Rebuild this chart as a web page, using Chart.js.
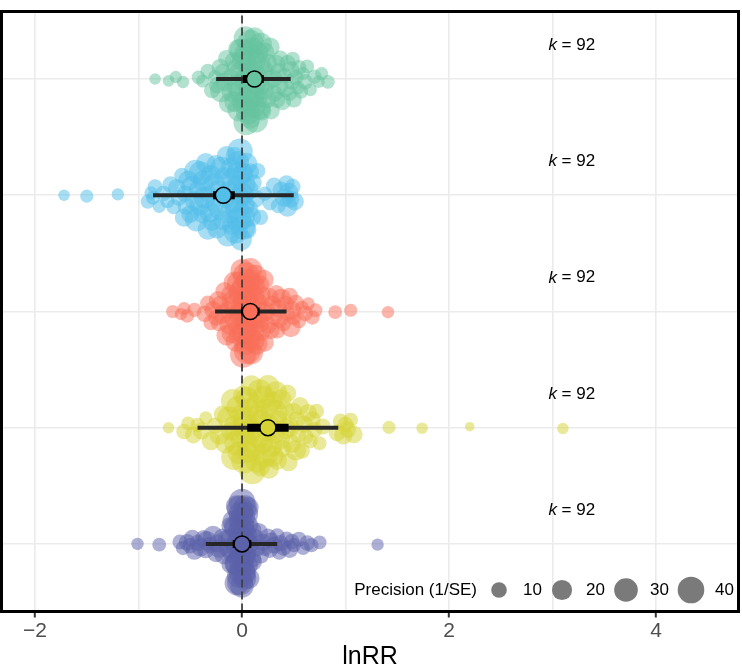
<!DOCTYPE html>
<html>
<head>
<meta charset="utf-8">
<script src="https://cdn.jsdelivr.net/npm/chart.js@4.4.0/dist/chart.umd.min.js"></script>
<style>
  html, body { margin: 0; padding: 0; background: #fff; }
  #orchard { display: block; }
</style>
</head>
<body>
<canvas id="orchard" width="742" height="667"></canvas>
<script>
// lnRR and precision (1/SE) of the 92 effect sizes in each group, groups from top to bottom
const lnrrGreen = [
  -0.84, -0.71, -0.64, -0.57, -0.42, -0.38, -0.33, -0.29, -0.26, -0.24,
  -0.21, -0.19, -0.17, -0.15, -0.13, -0.11, -0.10, -0.08, -0.07, -0.06,
  -0.05, -0.04, -0.03, -0.02, -0.01, 0.00, 0.01, 0.02, 0.02, 0.03,
  0.04, 0.04, 0.05, 0.06, 0.06, 0.07, 0.08, 0.08, 0.09, 0.10,
  0.10, 0.11, 0.12, 0.12, 0.13, 0.14, 0.14, 0.15, 0.16, 0.17,
  0.18, 0.19, 0.20, 0.21, 0.22, 0.23, 0.25, 0.26, 0.28, 0.30,
  0.31, 0.33, 0.34, 0.36, 0.37, 0.39, 0.41, 0.42, 0.44, 0.46,
  0.47, 0.49, 0.50, 0.52, 0.54, 0.55, 0.57, 0.59, 0.61, 0.63,
  0.66, 0.70, 0.74, 0.77, 0.83, -0.20, 0.05, 0.11, 0.16, 0.27,
  0.35, 0.48
];
const precGreen = [
  4, 4, 5, 5, 7, 6, 9, 11, 8, 12,
  14, 10, 16, 12, 18, 13, 20, 15, 22, 17,
  25, 19, 28, 21, 30, 34, 24, 31, 20, 27,
  36, 23, 29, 33, 18, 26, 38, 22, 30, 35,
  25, 32, 28, 21, 34, 19, 27, 24, 31, 22,
  26, 18, 23, 20, 17, 21, 15, 19, 14, 16,
  13, 17, 12, 15, 11, 14, 10, 16, 12, 9,
  13, 8, 11, 10, 7, 9, 8, 6, 10, 7,
  6, 8, 5, 6, 7, 26, 40, 33, 29, 18,
  12, 11
];
const lnrrBlue = [
  -1.72, -1.50, -1.20, -0.91, -0.88, -0.86, -0.84, -0.80, -0.76, -0.72,
  -0.69, -0.66, -0.63, -0.61, -0.58, -0.56, -0.54, -0.52, -0.50, -0.48,
  -0.46, -0.44, -0.43, -0.41, -0.40, -0.38, -0.36, -0.35, -0.33, -0.32,
  -0.30, -0.29, -0.27, -0.26, -0.24, -0.23, -0.21, -0.20, -0.18, -0.17,
  -0.16, -0.14, -0.13, -0.12, -0.10, -0.09, -0.08, -0.07, -0.06, -0.05,
  -0.04, -0.03, -0.02, -0.02, -0.01, 0.00, 0.00, 0.01, 0.02, 0.03,
  0.04, 0.05, 0.06, 0.08, 0.09, 0.11, 0.13, 0.15, 0.18, 0.22,
  0.27, 0.31, 0.35, 0.38, 0.41, 0.43, 0.45, 0.47, 0.49, 0.51,
  -0.45, -0.37, -0.25, -0.15, -0.11, -0.05, -0.03, 0.01, 0.44, -0.55,
  -0.31, 0.07
];
const precBlue = [
  4, 6, 5, 8, 6, 7, 9, 6, 10, 8,
  12, 9, 14, 11, 10, 16, 13, 20, 15, 24,
  18, 28, 14, 22, 30, 17, 25, 19, 21, 13,
  23, 16, 26, 18, 20, 14, 24, 27, 19, 22,
  15, 25, 18, 21, 17, 28, 23, 16, 31, 20,
  26, 33, 22, 36, 24, 30, 38, 21, 27, 18,
  25, 16, 22, 14, 19, 12, 15, 10, 9, 8,
  10, 12, 9, 14, 16, 11, 18, 13, 10, 15,
  26, 23, 19, 17, 20, 29, 35, 32, 20, 12,
  22, 15
];
const lnrrRed = [
  -0.67, -0.59, -0.56, -0.53, -0.46, -0.36, -0.33, -0.30, -0.28, -0.25,
  -0.23, -0.21, -0.19, -0.17, -0.15, -0.14, -0.12, -0.11, -0.09, -0.08,
  -0.07, -0.06, -0.05, -0.04, -0.03, -0.02, -0.01, 0.00, 0.00, 0.01,
  0.02, 0.03, 0.03, 0.04, 0.05, 0.06, 0.06, 0.07, 0.08, 0.09,
  0.09, 0.10, 0.11, 0.12, 0.13, 0.14, 0.15, 0.16, 0.17, 0.18,
  0.19, 0.20, 0.22, 0.23, 0.25, 0.26, 0.28, 0.29, 0.31, 0.33,
  0.34, 0.36, 0.38, 0.40, 0.42, 0.44, 0.46, 0.48, 0.50, 0.52,
  0.55, 0.58, 0.61, 0.64, 0.68, 0.71, 0.90, 1.05, 1.41, 0.02,
  0.05, 0.08, 0.11, -0.10, 0.21, 0.35, 0.47, -0.22, 0.13, 0.04,
  0.01, 0.07
];
const precRed = [
  6, 5, 6, 7, 8, 12, 10, 9, 14, 11,
  16, 13, 18, 15, 20, 14, 22, 17, 24, 19,
  26, 21, 29, 23, 31, 25, 33, 36, 28, 38,
  30, 24, 34, 27, 40, 22, 32, 26, 35, 29,
  23, 31, 27, 21, 28, 25, 19, 24, 17, 22,
  16, 20, 15, 18, 14, 17, 13, 16, 12, 15,
  11, 14, 18, 10, 13, 9, 12, 16, 8, 11,
  9, 7, 10, 6, 8, 7, 7, 6, 5, 33,
  37, 30, 26, 20, 19, 14, 20, 12, 25, 39,
  35, 28
];
const lnrrYellow = [
  -0.71, -0.56, -0.52, -0.47, -0.43, -0.39, -0.35, -0.30, -0.26, -0.22,
  -0.19, -0.16, -0.13, -0.11, -0.09, -0.07, -0.05, -0.03, -0.01, 0.00,
  0.01, 0.03, 0.04, 0.05, 0.07, 0.08, 0.09, 0.10, 0.12, 0.13,
  0.14, 0.15, 0.17, 0.18, 0.19, 0.20, 0.22, 0.23, 0.24, 0.25,
  0.27, 0.28, 0.29, 0.31, 0.32, 0.33, 0.35, 0.36, 0.38, 0.39,
  0.41, 0.42, 0.44, 0.46, 0.48, 0.50, 0.52, 0.54, 0.56, 0.58,
  0.60, 0.62, 0.64, 0.66, 0.68, 0.70, 0.72, 0.75, 0.78, 0.92,
  0.95, 0.98, 1.00, 1.02, 1.05, 1.08, 1.42, 1.74, 2.20, 3.10,
  -0.04, 0.02, 0.06, 0.11, 0.16, 0.21, 0.26, 0.34, 0.45, 0.53,
  -0.08, 0.30
];
const precYellow = [
  4, 10, 7, 12, 8, 14, 6, 16, 11, 18,
  13, 21, 26, 17, 30, 22, 34, 27, 25, 36,
  19, 31, 24, 28, 20, 33, 23, 38, 26, 18,
  29, 22, 32, 17, 27, 21, 35, 24, 19, 28,
  16, 26, 21, 40, 18, 25, 15, 23, 20, 14,
  17, 22, 13, 19, 16, 12, 21, 11, 15, 10,
  13, 9, 14, 8, 12, 10, 9, 7, 11, 13,
  9, 16, 10, 12, 8, 14, 6, 4, 2, 4,
  30, 37, 26, 32, 24, 29, 20, 18, 15, 12,
  35, 22
];
const lnrrPurple = [
  -1.01, -0.80, -0.60, -0.57, -0.53, -0.50, -0.46, -0.43, -0.40, -0.37,
  -0.34, -0.31, -0.28, -0.25, -0.22, -0.19, -0.17, -0.15, -0.13, -0.11,
  -0.10, -0.09, -0.08, -0.07, -0.06, -0.05, -0.05, -0.04, -0.04, -0.03,
  -0.03, -0.02, -0.02, -0.01, -0.01, 0.00, 0.00, 0.00, 0.01, 0.01,
  0.02, 0.02, 0.03, 0.03, 0.04, 0.04, 0.05, 0.06, 0.07, 0.08,
  0.09, 0.10, 0.12, 0.14, 0.16, 0.18, 0.20, 0.22, 0.25, 0.28,
  0.31, 0.34, 0.37, 0.40, 0.43, 0.46, 0.50, 0.55, 0.59, 0.63,
  0.67, 0.75, 1.31, -0.02, -0.01, 0.00, 0.01, 0.02, 0.00, -0.03,
  0.03, -0.06, 0.05, -0.12, 0.11, -0.24, 0.27, -0.35, 0.36, -0.48,
  0.48, 0.06
];
const precPurple = [
  5, 7, 9, 8, 12, 10, 14, 11, 16, 13,
  18, 12, 20, 15, 17, 13, 22, 14, 19, 16,
  24, 18, 27, 21, 30, 25, 33, 28, 36, 23,
  31, 26, 38, 29, 34, 40, 32, 27, 35, 24,
  30, 22, 28, 26, 20, 31, 23, 18, 21, 16,
  19, 15, 17, 13, 16, 12, 14, 11, 15, 10,
  13, 9, 12, 11, 10, 14, 8, 9, 7, 10,
  8, 7, 5, 37, 33, 39, 31, 35, 29, 26,
  27, 20, 24, 12, 13, 15, 11, 14, 9, 12,
  10, 22
];

// model estimates per group (top to bottom)
const meanEst = [0.12, -0.18, 0.08, 0.25, 0.00];
const ciLow   = [0.01, -0.28, -0.01, 0.05, -0.09];
const ciHigh  = [0.21, -0.07, 0.17, 0.45, 0.09];
const piLow   = [-0.25, -0.86, -0.26, -0.43, -0.35];
const piHigh  = [0.47, 0.50, 0.43, 0.93, 0.34];
const kValues = [92, 92, 92, 92, 92];

const xTicks = [-2, -1, 0, 1, 2, 3, 4];
const sizeBreaks = [10, 20, 30, 40];

const groupRows = [5, 4, 3, 2, 1];
const groupLnrr = [lnrrGreen, lnrrBlue, lnrrRed, lnrrYellow, lnrrPurple];
const groupPrec = [precGreen, precBlue, precRed, precYellow, precPurple];
const groupColors = ['#66C4A0', '#52BEEA', '#F96E58', '#D5D433', '#5C62AA'];

const xMin = -2.324, xMax = 4.797;
const yMin = 0.419, yMax = 5.581;
const kPos = 2.96;
const fontFamily = '"Liberation Sans", Arial, Helvetica, sans-serif';

function sizeOf(p) {
  return 2.3 + 1.74 * Math.sqrt(p);
}

function withAlpha(hex, a) {
  const n = parseInt(hex.slice(1), 16);
  return 'rgba(' + (n >> 16) + ',' + ((n >> 8) & 255) + ',' + (n & 255) + ',' + a + ')';
}

// van der Corput sequence, base 2
function vdc(n) {
  let v = 0, d = 1;
  while (n > 0) {
    d *= 2;
    v += (n % 2) / d;
    n = Math.floor(n / 2);
  }
  return v;
}

// quasirandom offsets like ggbeeswarm: spread scaled by the kernel density at each value
function quasiOffsets(xs, width) {
  const n = xs.length;
  const sorted = xs.slice().sort((a, b) => a - b);
  const mean = xs.reduce((a, b) => a + b, 0) / n;
  const sd = Math.sqrt(xs.reduce((a, b) => a + (b - mean) ** 2, 0) / (n - 1));
  const q = p => {
    const h = (n - 1) * p, lo = Math.floor(h);
    const hi = Math.min(lo + 1, n - 1);
    return sorted[lo] + (h - lo) * (sorted[hi] - sorted[lo]);
  };
  const bw = 0.9 * Math.min(sd, (q(0.75) - q(0.25)) / 1.34) * Math.pow(n, -0.2);
  const dens = x => xs.reduce((s, v) => s + Math.exp(-0.5 * ((x - v) / bw) ** 2), 0);
  let maxD = 0;
  const lo = sorted[0] - 3 * bw, span = sorted[n - 1] - sorted[0] + 6 * bw;
  for (let i = 0; i < 512; i++) maxD = Math.max(maxD, dens(lo + i * span / 511));
  const idx = xs.map((v, i) => i).sort((a, b) => xs[a] - xs[b] || a - b);
  const rank = new Array(n);
  idx.forEach((i, r) => { rank[i] = r + 1; });
  return xs.map((v, i) => (vdc(rank[i]) - 0.5) * 2 * dens(v) / maxD * width);
}

const datasets = [];

groupLnrr.forEach((xs, g) => {
  const offs = quasiOffsets(xs, 0.4);
  const prec = groupPrec[g];
  datasets.push({
    type: 'scatter',
    data: xs.map((v, i) => ({ x: v, y: groupRows[g] + offs[i] })),
    backgroundColor: withAlpha(groupColors[g], 0.5),
    borderWidth: 0,
    pointRadius: ctx => sizeOf(prec[ctx.dataIndex]),
    pointHoverRadius: ctx => sizeOf(prec[ctx.dataIndex]),
    order: 4
  });
});

datasets.push({
  type: 'line',
  data: [{ x: 0, y: yMin }, { x: 0, y: yMax }],
  borderColor: '#404040',
  borderWidth: 1.8,
  borderDash: [8, 4],
  pointRadius: 0,
  order: 3
});

groupRows.forEach((row, g) => {
  datasets.push({
    type: 'line',
    data: [{ x: piLow[g], y: row }, { x: piHigh[g], y: row }],
    borderColor: '#262626',
    borderWidth: 4,
    pointRadius: 0,
    order: 2
  });
  datasets.push({
    type: 'line',
    data: [{ x: ciLow[g], y: row }, { x: ciHigh[g], y: row }],
    borderColor: '#000',
    borderWidth: 8,
    pointRadius: 0,
    order: 1
  });
});

datasets.push({
  type: 'scatter',
  data: meanEst.map((m, g) => ({ x: m, y: groupRows[g] })),
  backgroundColor: groupColors,
  borderColor: '#000',
  borderWidth: 1.5,
  pointRadius: 8,
  pointHoverRadius: 8,
  order: 0
});

const decorations = {
  id: 'decorations',
  afterDraw(chart) {
    const { ctx, chartArea: a, scales: { x, y } } = chart;
    ctx.save();
    ctx.strokeStyle = '#000';
    ctx.lineWidth = 3;
    ctx.strokeRect(a.left, a.top, a.right - a.left, a.bottom - a.top);

    ctx.fillStyle = '#000';
    ctx.textBaseline = 'middle';
    ctx.textAlign = 'left';
    groupRows.forEach((row, g) => {
      const px = x.getPixelForValue(kPos);
      const py = y.getPixelForValue(row + 0.29);
      ctx.font = 'italic 17px ' + fontFamily;
      ctx.fillText('k', px, py);
      const kw = ctx.measureText('k').width;
      ctx.font = '17px ' + fontFamily;
      ctx.fillText(' = ' + kValues[g], px + kw, py);
    });

    // precision legend
    const ly = 590;
    ctx.font = '17px ' + fontFamily;
    ctx.textAlign = 'right';
    ctx.fillText('Precision (1/SE)', 477, ly);
    const keyX = [499, 562, 626, 691];
    ctx.textAlign = 'left';
    sizeBreaks.forEach((b, i) => {
      ctx.fillStyle = '#7A7A7A';
      ctx.beginPath();
      ctx.arc(keyX[i], ly, sizeOf(b), 0, Math.PI * 2);
      ctx.fill();
      ctx.fillStyle = '#000';
      ctx.fillText(String(b), keyX[i] + 24, ly);
    });
    ctx.restore();
  }
};

Chart.defaults.font.family = fontFamily;

new Chart(document.getElementById('orchard'), {
  type: 'scatter',
  data: { datasets: datasets },
  options: {
    responsive: false,
    animation: false,
    devicePixelRatio: 1,
    layout: { autoPadding: false, padding: { left: 0, top: 11.5, right: 3.5, bottom: 0 } },
    plugins: { legend: { display: false }, tooltip: { enabled: false } },
    scales: {
      x: {
        type: 'linear',
        min: xMin,
        max: xMax,
        afterBuildTicks: s => { s.ticks = xTicks.map(v => ({ value: v })); },
        afterFit: s => {
          s.height = 55.5;
          s.paddingLeft = 0;
          s.paddingRight = 0;
        },
        border: { display: false },
        grid: {
          color: '#EBEBEB',
          lineWidth: 1.6,
          tickLength: 6,
          tickWidth: 2,
          tickColor: c => (c.tick && c.tick.value % 2 === 0) ? '#333333' : 'rgba(0,0,0,0)'
        },
        ticks: {
          autoSkip: false,
          maxRotation: 0,
          padding: 1,
          color: '#4D4D4D',
          font: { size: 21 },
          callback: v => v % 2 === 0 ? (v < 0 ? '\u2212' + Math.abs(v) : String(v)) : ''
        },
        title: {
          display: true,
          text: 'lnRR',
          color: '#000',
          font: { size: 25 },
          padding: { top: 0, bottom: -5 }
        }
      },
      y: {
        type: 'linear',
        min: yMin,
        max: yMax,
        afterBuildTicks: s => { s.ticks = groupRows.map(v => ({ value: v })); },
        afterFit: s => {
          s.width = 1.5;
          s.paddingTop = 0;
          s.paddingBottom = 0;
        },
        border: { display: false },
        grid: { color: '#EBEBEB', lineWidth: 1.6, drawTicks: false },
        ticks: { display: false }
      }
    }
  },
  plugins: [decorations]
});
</script>
</body>
</html>
